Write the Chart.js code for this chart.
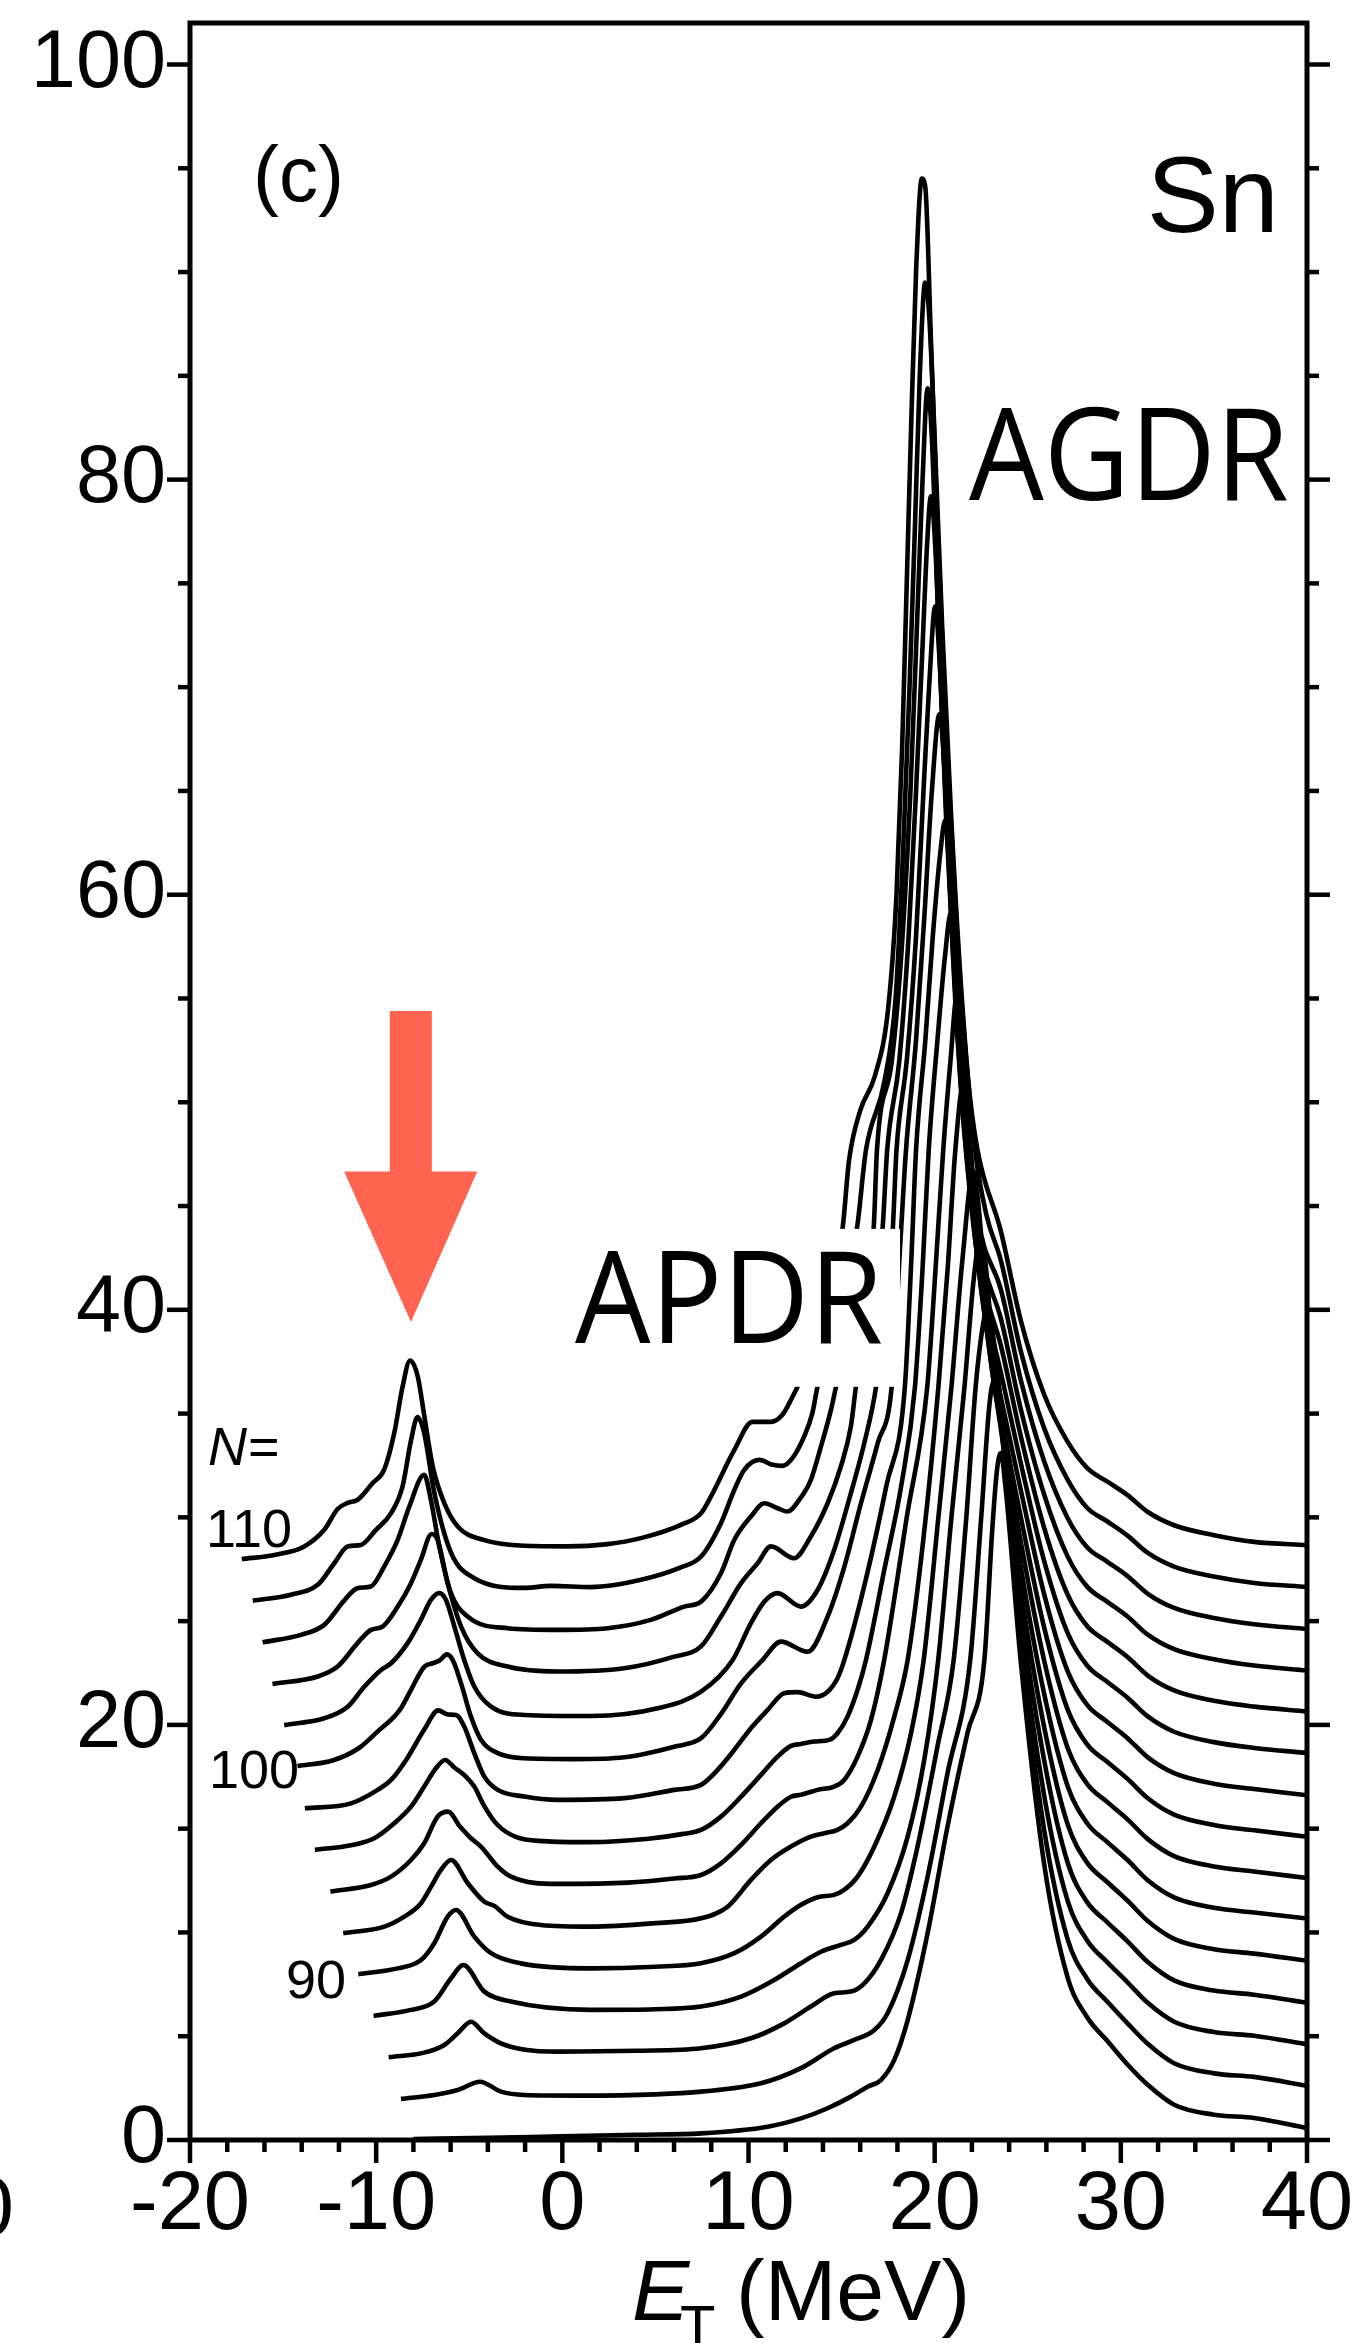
<!DOCTYPE html>
<html>
<head>
<meta charset="utf-8">
<title>Sn strength functions</title>
<script src="https://cdn.jsdelivr.net/npm/chart.js@4.4.1/dist/chart.umd.min.js"></script>
<style>
  html, body { margin: 0; padding: 0; background: #fff; }
  canvas { display: block; }
</style>
</head>
<body>
<canvas id="chart" width="1358" height="2343"></canvas>
<script>
// Sn isotopes, top curve first (each curve is stacked 2 units above the next one)
const neutronNumbers = [110, 108, 106, 104, 102, 100, 98, 96, 94, 92, 90, 88, 86, 84, 82];

// [E_T (MeV), strength] as plotted in the figure
const n110 = [[-17.22,27.99],[-15.47,28.19],[-13.86,28.6],[-12.79,29.4],[-12.07,30.4],[-11.53,30.7],[-11.0,30.84],[-10.19,31.65],[-9.57,32.3],[-9.03,34.06],[-8.58,36.3],[-8.18,37.56],[-7.77,36.8],[-7.41,34.86],[-6.96,32.45],[-6.34,30.68],[-5.62,29.56],[-4.19,28.9],[-2.04,28.63],[0.29,28.6],[2.43,28.71],[4.22,29.0],[6.37,29.64],[7.45,30.2],[7.98,31.0],[9.24,33.25],[10.21,34.6],[11.2,34.6],[11.82,34.94],[12.36,35.8],[12.63,36.3],[13.8,39.5],[15.05,43.9],[15.4,47.2],[16.0,49.6],[16.8,51.3],[17.5,54.5],[17.95,60.0],[18.25,67.0],[18.5,75.0],[18.75,83.0],[19.0,90.0],[19.31,94.5],[19.5,94.06],[19.8,86.7],[20.16,77.5],[20.6,68.2],[21.14,59.0],[21.77,51.3],[22.3,47.7],[23.55,43.8],[24.63,39.47],[25.88,35.92],[27.13,33.66],[28.2,32.37],[29.28,31.72],[30.36,31.07],[31.43,30.27],[32.86,29.62],[35.01,29.14],[37.16,28.82],[40,28.66]];
const n108 = [[-16.63,25.98],[-14.58,26.27],[-13.14,26.75],[-12.25,27.79],[-11.53,28.6],[-10.82,28.67],[-10.01,29.4],[-9.2,30.2],[-8.58,31.5],[-8.13,33.7],[-7.78,34.83],[-7.42,34.06],[-6.88,31.2],[-5.98,28.3],[-4.73,27.07],[-2.04,26.6],[-0.6,26.7],[1.54,26.64],[4.22,26.99],[6.4,27.6],[7.45,28.11],[8.52,29.72],[9.24,31.33],[9.77,32.29],[10.58,32.77],[11.29,32.53],[11.83,32.48],[12.36,32.85],[12.99,33.9],[13.43,35.02],[13.7,36.28],[14.8,40.5],[15.82,43.9],[16.31,47.7],[17.3,51.0],[17.9,55.0],[18.3,62.0],[18.65,70.0],[18.95,78.0],[19.2,85.0],[19.49,89.5],[19.7,88.0],[20.0,82.0],[20.4,73.0],[20.9,63.5],[21.5,54.5],[22.2,47.5],[22.8,44.5],[23.55,42.4],[24.63,38.0],[25.88,34.3],[27.14,31.82],[28.2,30.45],[29.28,29.8],[30.36,29.12],[31.43,28.3],[32.86,27.63],[35.0,27.15],[37.16,26.84],[40,26.65]];
const n106 = [[-16.1,23.98],[-14.04,24.34],[-12.79,24.82],[-11.71,26.0],[-11.0,26.59],[-10.28,26.67],[-9.57,27.63],[-8.85,28.9],[-8.22,30.52],[-7.42,32.05],[-7.06,30.84],[-6.61,28.6],[-5.98,26.35],[-5.09,25.22],[-2.94,24.66],[-0.26,24.58],[2.43,24.66],[4.75,25.06],[6.54,25.7],[7.45,25.94],[8.52,27.31],[9.24,28.92],[10.13,30.04],[10.85,30.68],[11.56,30.44],[12.1,30.28],[12.72,30.84],[13.35,31.81],[13.89,33.41],[14.43,35.18],[14.7,36.28],[15.8,40.5],[16.72,43.9],[16.9,47.7],[17.7,52.0],[18.2,57.0],[18.7,65.0],[19.05,73.0],[19.35,80.0],[19.62,84.4],[19.85,82.0],[20.2,73.0],[20.6,64.0],[21.1,55.0],[21.7,47.5],[22.5,43.5],[23.55,41.0],[24.63,36.6],[25.88,32.7],[27.14,29.97],[28.2,28.55],[29.28,27.86],[30.36,27.17],[31.43,26.33],[32.86,25.64],[35.0,25.15],[37.16,24.85],[40,24.62]];
const n104 = [[-15.57,21.97],[-13.14,22.33],[-12.07,22.81],[-11.0,23.94],[-10.28,24.58],[-9.65,24.74],[-8.84,25.7],[-8.13,26.83],[-7.6,27.95],[-7.02,29.2],[-6.7,28.92],[-6.16,26.83],[-5.44,24.74],[-4.55,23.45],[-2.94,22.81],[-0.26,22.57],[3.33,22.73],[6.01,23.29],[7.45,23.78],[8.52,25.22],[9.6,26.83],[10.49,27.79],[11.2,28.6],[12.45,28.03],[13.35,29.08],[14.25,30.68],[14.96,32.45],[15.5,34.38],[15.77,36.28],[16.6,40.5],[17.2,43.9],[17.45,47.7],[18.1,52.0],[18.6,58.0],[19.0,65.0],[19.35,72.0],[19.6,77.0],[19.8,79.2],[20.05,76.5],[20.4,69.0],[20.8,61.0],[21.3,53.0],[21.9,46.5],[22.6,42.3],[23.55,39.6],[24.63,35.2],[25.88,31.1],[27.14,28.12],[28.2,26.65],[29.28,25.93],[30.36,25.22],[31.43,24.36],[32.86,23.65],[35.0,23.16],[37.16,22.86],[40,22.62]];
const n102 = [[-14.94,19.99],[-12.79,20.32],[-11.53,20.88],[-10.63,21.85],[-9.74,22.65],[-9.2,22.97],[-8.31,23.94],[-7.6,25.06],[-7.06,26.02],[-6.61,26.35],[-6.25,26.02],[-5.8,24.74],[-5.27,23.13],[-4.73,21.85],[-3.83,20.88],[-2.04,20.48],[1.54,20.43],[5.12,20.8],[7.45,21.6],[9.15,23.13],[10.13,24.9],[10.85,25.94],[11.56,26.35],[12.81,25.7],[13.71,26.5],[14.6,28.43],[15.5,31.17],[16.22,33.58],[16.85,36.28],[17.4,40.5],[17.75,43.9],[17.95,47.7],[18.5,52.0],[19.0,58.0],[19.4,65.0],[19.7,70.0],[20.03,73.9],[20.25,71.5],[20.6,64.5],[21.0,57.0],[21.5,50.0],[22.1,44.5],[22.7,41.0],[23.55,38.3],[24.63,33.9],[25.88,29.5],[27.14,26.28],[28.2,24.75],[29.28,24.0],[30.36,23.27],[31.43,22.39],[32.86,21.66],[35.0,21.16],[37.16,20.88],[40,20.65]];
const n100 = [[-14.23,18.02],[-12.3,18.3],[-10.9,18.9],[-9.9,19.7],[-9.03,20.4],[-8.67,20.8],[-8.13,21.69],[-7.41,22.81],[-6.96,22.97],[-6.6,23.1],[-6.2,23.4],[-5.89,23.13],[-5.44,22.0],[-4.91,20.4],[-4.37,19.28],[-3.47,18.64],[-2.04,18.39],[0.64,18.35],[3.33,18.44],[6.01,18.95],[7.45,19.36],[8.5,20.5],[9.6,22.0],[10.76,23.13],[11.74,24.01],[13.18,23.53],[14.25,25.22],[15.15,27.63],[16.04,30.68],[16.94,33.58],[17.69,36.28],[18.2,43.9],[18.46,47.7],[19.0,53.0],[19.45,59.0],[19.85,65.0],[20.26,68.7],[20.5,66.5],[20.85,60.0],[21.25,53.0],[21.75,47.0],[22.3,42.5],[22.9,39.5],[23.55,37.0],[24.63,32.6],[25.88,27.9],[27.14,24.43],[28.2,22.85],[29.28,22.07],[30.36,21.31],[31.43,20.42],[32.86,19.67],[35.0,19.17],[37.16,18.89],[40,18.65]];
const n98 = [[-13.83,15.98],[-11.35,16.22],[-9.92,16.87],[-9.2,17.35],[-8.4,18.3],[-7.4,19.8],[-6.67,20.7],[-6.13,20.5],[-5.71,20.48],[-5.27,19.92],[-4.73,18.64],[-4.19,17.51],[-3.47,16.87],[-2.04,16.55],[-0.25,16.39],[3.33,16.47],[6.01,16.87],[7.45,17.11],[8.34,17.83],[9.24,18.8],[10.13,19.84],[11.03,20.72],[11.92,21.53],[12.64,21.58],[13.62,21.36],[14.25,21.6],[14.78,22.25],[15.15,23.13],[16.3,27.0],[17.4,31.5],[18.4,36.3],[18.75,42.5],[19.0,47.7],[19.5,53.0],[19.9,58.0],[20.3,62.0],[20.57,63.6],[20.8,61.5],[21.15,56.0],[21.55,50.0],[22.0,45.0],[22.5,41.0],[23.0,38.0],[23.55,35.8],[24.63,31.3],[25.88,26.3],[27.14,22.59],[28.2,20.95],[29.28,20.14],[30.36,19.36],[31.43,18.45],[32.86,17.68],[35.0,17.17],[37.16,16.91],[40,16.61]];
const n96 = [[-13.29,13.98],[-11.35,14.2],[-10.1,14.54],[-9.03,15.26],[-8.13,16.06],[-7.42,17.03],[-6.8,17.9],[-6.3,18.31],[-5.8,17.95],[-5.18,17.51],[-4.73,17.03],[-4.2,16.1],[-3.5,15.2],[-2.5,14.6],[-1.0,14.4],[1.5,14.35],[4.5,14.5],[6.5,14.75],[7.45,14.94],[8.52,15.58],[9.6,16.54],[10.67,17.59],[11.56,18.47],[12.28,18.99],[12.82,19.08],[13.53,19.2],[14.34,19.28],[14.78,19.6],[15.32,20.4],[15.86,21.69],[16.31,23.13],[17.3,27.5],[18.2,31.5],[18.94,36.28],[19.35,42.0],[19.68,47.7],[20.15,53.0],[20.55,57.0],[20.87,59.1],[21.1,57.0],[21.45,52.0],[21.85,47.0],[22.3,42.5],[22.8,39.0],[23.55,35.0],[24.63,30.0],[25.88,24.7],[27.14,20.75],[28.2,19.05],[29.28,18.21],[30.36,17.4],[31.43,16.48],[32.86,15.68],[35.0,15.18],[37.16,14.92],[40,14.61]];
const n94 = [[-12.46,11.97],[-10.28,12.29],[-9.2,12.69],[-8.13,13.49],[-7.42,14.3],[-6.7,15.58],[-6.13,15.82],[-5.5,15.1],[-4.91,14.54],[-4.37,14.14],[-3.47,13.17],[-2.76,12.69],[-0.25,12.34],[3.5,12.4],[6.0,12.6],[7.45,12.77],[8.52,13.33],[9.6,14.22],[10.67,15.26],[11.56,16.06],[12.28,16.54],[12.82,16.63],[13.71,16.87],[14.6,17.03],[15.14,17.35],[15.86,18.47],[16.58,20.24],[17.29,23.13],[18.5,30.0],[19.6,36.28],[20.05,42.0],[20.46,47.7],[20.85,52.0],[21.19,55.1],[21.4,53.3],[21.75,49.0],[22.15,44.5],[22.6,40.5],[23.1,37.0],[23.55,34.5],[24.63,28.8],[25.88,23.1],[27.14,18.9],[28.2,17.15],[29.28,16.28],[30.36,15.45],[31.43,14.51],[32.86,13.68],[35.0,13.18],[37.16,12.94],[40,12.62]];
const n92 = [[-11.77,9.96],[-9.56,10.28],[-8.49,10.76],[-7.59,11.41],[-7.05,12.21],[-6.52,13.01],[-5.98,13.49],[-5.08,12.37],[-4.19,11.48],[-3.65,11.28],[-2.94,10.76],[-1.15,10.36],[1.54,10.28],[5.0,10.45],[7.45,10.68],[8.88,11.24],[10.13,12.53],[11.2,13.49],[12.28,14.14],[13.35,14.62],[14.07,14.78],[14.78,14.94],[15.32,15.26],[16.04,16.06],[16.94,17.83],[17.83,20.4],[18.55,23.13],[19.4,29.0],[20.2,36.28],[20.7,42.0],[21.11,47.7],[21.55,50.9],[21.75,49.5],[22.1,46.0],[22.5,42.0],[22.95,38.0],[23.55,34.3],[24.63,27.6],[25.88,21.5],[27.14,17.06],[28.2,15.25],[29.28,14.35],[30.36,13.49],[31.43,12.53],[32.86,11.69],[35.0,11.19],[37.16,10.96],[40,10.67]];
const n90 = [[-10.96,7.99],[-8.85,8.27],[-7.59,8.67],[-6.88,9.48],[-6.16,10.76],[-5.71,11.08],[-4.73,9.8],[-3.83,9.0],[-2.22,8.51],[1.54,8.27],[5.0,8.35],[7.45,8.52],[9.24,9.0],[10.67,9.8],[11.92,10.76],[12.82,11.33],[13.71,11.7],[14.6,11.81],[15.14,12.05],[15.86,12.69],[16.76,14.14],[17.83,16.55],[18.73,19.6],[19.41,23.13],[20.2,30.0],[20.9,36.28],[21.5,42.5],[22.08,46.7],[22.3,45.5],[22.65,42.0],[23.05,38.0],[23.55,34.5],[24.63,26.5],[25.88,19.9],[27.14,15.22],[28.2,13.35],[29.28,12.42],[30.36,11.53],[31.43,10.56],[32.86,9.69],[35.0,9.19],[37.16,8.98],[40,8.64]];
const n88 = [[-10.14,5.98],[-8.13,6.27],[-6.88,6.67],[-5.98,7.79],[-5.32,8.43],[-4.19,7.15],[-2.76,6.67],[1.54,6.27],[5.0,6.3],[7.45,6.43],[9.6,6.91],[11.38,7.71],[12.82,8.52],[13.89,9.07],[14.96,9.4],[15.68,9.64],[16.4,10.28],[17.47,11.89],[18.55,14.62],[19.44,18.31],[20.19,23.13],[20.9,30.0],[21.6,36.28],[22.1,41.5],[22.48,43.6],[22.7,42.5],[23.05,39.0],[23.55,35.0],[24.63,25.5],[25.88,18.3],[27.14,13.37],[28.2,11.45],[29.28,10.49],[30.36,9.57],[31.43,8.59],[32.86,7.69],[35.0,7.2],[37.16,7.0],[40,6.61]];
const n86 = [[-9.33,3.99],[-7.42,4.21],[-6.34,4.58],[-5.62,5.14],[-4.91,5.7],[-4.19,5.14],[-3.3,4.66],[-2.0,4.35],[-0.25,4.26],[4.0,4.3],[7.45,4.42],[10.13,4.9],[11.92,5.62],[13.35,6.43],[14.6,7.07],[15.5,7.15],[16.22,7.55],[17.11,8.67],[18.19,10.92],[19.08,14.14],[20.15,18.96],[21.02,23.13],[21.7,30.0],[22.2,36.28],[22.6,39.3],[22.85,40.1],[23.1,39.0],[23.55,35.5],[24.63,24.6],[25.88,16.6],[27.14,11.53],[28.2,9.6],[29.28,8.56],[30.36,7.6],[31.43,6.62],[32.86,5.7],[35.0,5.2],[37.16,5.02],[40,4.61]];
const n84 = [[-8.67,1.98],[-6.88,2.17],[-5.62,2.41],[-4.42,2.81],[-3.3,2.33],[-2.04,2.17],[1.0,2.14],[5.0,2.2],[7.45,2.33],[10.67,2.73],[12.82,3.46],[14.6,4.42],[15.68,4.82],[16.76,5.3],[17.47,6.11],[18.55,8.67],[19.62,12.69],[20.69,17.67],[21.91,23.13],[22.5,30.0],[22.95,35.5],[23.2,36.6],[23.55,34.8],[24.63,23.8],[25.88,14.95],[27.14,9.68],[28.2,7.75],[29.28,6.66],[30.36,5.62],[31.43,4.65],[32.86,3.7],[35.0,3.21],[37.16,3.04],[40,2.61]];
const n82 = [[-8.0,0.05],[-4.0,0.1],[0.0,0.18],[4.0,0.25],[7.45,0.32],[11.03,0.64],[12.82,1.04],[14.25,1.53],[15.5,2.09],[16.4,2.57],[17.11,2.89],[17.83,3.86],[18.55,5.78],[19.62,9.96],[20.69,15.1],[21.76,19.6],[22.67,23.13],[23.1,29.5],[23.35,32.3],[23.55,33.1],[23.8,31.5],[24.63,23.0],[25.88,13.3],[27.14,7.84],[28.2,5.9],[29.28,4.77],[30.36,3.64],[31.43,2.67],[32.86,1.7],[35.0,1.22],[37.16,1.06],[40,0.58]];

const curves = [n110, n108, n106, n104, n102, n100, n98, n96, n94, n92, n90, n88, n86, n84, n82];

const xTicks = [-20, -10, 0, 10, 20, 30, 40];
const yTicks = [0, 20, 40, 60, 80, 100];

const HELV = '"Liberation Sans", Arial, Helvetica, sans-serif';
const MYRIAD = '"Open Sans", "Noto Sans", sans-serif';

// annotations, positioned in data units
const notes = [
  { text: '(c)', x: -16.62, y: 93.4, size: 78, align: 'left' },
  { text: 'Sn', x: 38.49, y: 91.95, size: 108, align: 'right' },
  { text: '110', x: -19.14, y: 28.58, size: 54, align: 'left' },
  { text: '100', x: -18.98, y: 16.96, size: 54, align: 'left' },
  { text: '90', x: -14.84, y: 6.84, size: 54, align: 'left' }
];
const apdrBox = { x0: -0.07, x1: 18.14, y0: 36.29, y1: 43.9 };
const arrow = { shaftL: -9.27, shaftR: -7.01, top: 54.4, headL: -11.72, headR: -4.57, base: 46.66, tipX: -8.13, tipY: 39.41 };

const overlay = {
  id: 'overlay',
  afterDatasetsDraw(chart) {
    const { ctx } = chart;
    const px = v => chart.scales.x.getPixelForValue(v);
    const py = v => chart.scales.y.getPixelForValue(v);
    ctx.save();

    // white patch under the APDR label
    ctx.fillStyle = '#fff';
    ctx.fillRect(px(apdrBox.x0), py(apdrBox.y1), px(apdrBox.x1) - px(apdrBox.x0), py(apdrBox.y0) - py(apdrBox.y1));

    ctx.fillStyle = '#000';
    ctx.textBaseline = 'alphabetic';
    ctx.textAlign = 'left';
    ctx.font = '128px ' + MYRIAD;
    ctx.fillText('APDR', px(0.68), py(38.41), 308);
    ctx.fillText('AGDR', px(21.84), py(79.0), 320);

    notes.forEach(n => {
      ctx.font = n.size + 'px ' + HELV;
      ctx.textAlign = n.align;
      ctx.fillText(n.text, px(n.x), py(n.y));
    });

    ctx.textAlign = 'left';
    ctx.font = 'italic 54px ' + HELV;
    ctx.fillText('N', px(-19.03), py(32.53));
    const w = ctx.measureText('N').width;
    ctx.font = '54px ' + HELV;
    ctx.fillText('=', px(-19.03) + w + 1, py(32.53));

    ctx.fillStyle = '#ff6450';
    ctx.beginPath();
    ctx.moveTo(px(arrow.shaftL), py(arrow.top));
    ctx.lineTo(px(arrow.shaftR), py(arrow.top));
    ctx.lineTo(px(arrow.shaftR), py(arrow.base));
    ctx.lineTo(px(arrow.headR), py(arrow.base));
    ctx.lineTo(px(arrow.tipX), py(arrow.tipY));
    ctx.lineTo(px(arrow.headL), py(arrow.base));
    ctx.lineTo(px(arrow.shaftL), py(arrow.base));
    ctx.closePath();
    ctx.fill();
    ctx.restore();
  }
};

const frame = {
  id: 'frame',
  afterDraw(chart) {
    const { ctx, chartArea: a } = chart;
    const xs = chart.scales.x, ys = chart.scales.y;
    const line = (x1, y1, x2, y2) => { ctx.beginPath(); ctx.moveTo(x1, y1); ctx.lineTo(x2, y2); ctx.stroke(); };
    ctx.save();
    ctx.strokeStyle = '#000';
    ctx.lineWidth = 5;
    ctx.strokeRect(a.left, a.top, a.right - a.left, a.bottom - a.top);

    ctx.lineWidth = 4.5;
    for (let v = 0; v <= 100; v += 5) {
      const p = ys.getPixelForValue(v);
      const len = yTicks.includes(v) ? 23 : 12;
      line(a.left - len, p, a.left, p);
      line(a.right, p, a.right + len, p);
    }
    for (let v = -20; v <= 40; v += 2) {
      const p = xs.getPixelForValue(v);
      const len = xTicks.includes(v) ? 23 : 12;
      line(p, a.bottom, p, a.bottom + len);
    }

    // axis title E_T (MeV)
    ctx.fillStyle = '#000';
    ctx.textBaseline = 'alphabetic';
    ctx.textAlign = 'left';
    const base = a.bottom + 180;
    ctx.font = 'italic 86px ' + HELV;
    ctx.fillText('E', a.left + 442, base);
    ctx.font = '58px ' + HELV;
    ctx.fillText('T', a.left + 490, a.bottom + 206);
    ctx.font = '86px ' + HELV;
    ctx.fillText('(MeV)', a.left + 546, base);

    // edge of the neighbouring panel's last tick label
    ctx.font = '83px ' + HELV;
    ctx.textAlign = 'right';
    ctx.fillText('40', 14, a.bottom + 95);
    ctx.restore();
  }
};

new Chart(document.getElementById('chart'), {
  type: 'line',
  data: {
    datasets: curves.map((c, i) => ({
      label: 'N=' + neutronNumbers[i],
      data: c.map(p => ({ x: p[0], y: p[1] })),
      borderColor: '#000',
      borderWidth: 4.6,
      pointRadius: 0,
      fill: false,
      cubicInterpolationMode: 'monotone',
      borderJoinStyle: 'round'
    }))
  },
  options: {
    responsive: false,
    animation: false,
    devicePixelRatio: 1,
    events: [],
    layout: { padding: { left: 0, right: 51, top: 23, bottom: 0 } },
    plugins: { legend: { display: false }, tooltip: { enabled: false } },
    scales: {
      x: {
        type: 'linear',
        min: -20,
        max: 40,
        afterBuildTicks: s => { s.ticks = xTicks.map(v => ({ value: v })); },
        afterFit: s => { s.height = 203; s.paddingLeft = 0; s.paddingRight = 0; },
        grid: { display: false, drawTicks: false },
        border: { display: false },
        ticks: { color: '#000', font: { family: HELV, size: 83 }, padding: 16, maxRotation: 0, autoSkip: false }
      },
      y: {
        type: 'linear',
        min: 0,
        max: 102,
        afterBuildTicks: s => { s.ticks = yTicks.map(v => ({ value: v })); },
        afterFit: s => { s.width = 190; s.paddingTop = 0; s.paddingBottom = 0; },
        grid: { display: false, drawTicks: false },
        border: { display: false },
        ticks: { color: '#000', font: { family: HELV, size: 81 }, padding: 24 }
      }
    }
  },
  plugins: [overlay, frame]
});
</script>
</body>
</html>
